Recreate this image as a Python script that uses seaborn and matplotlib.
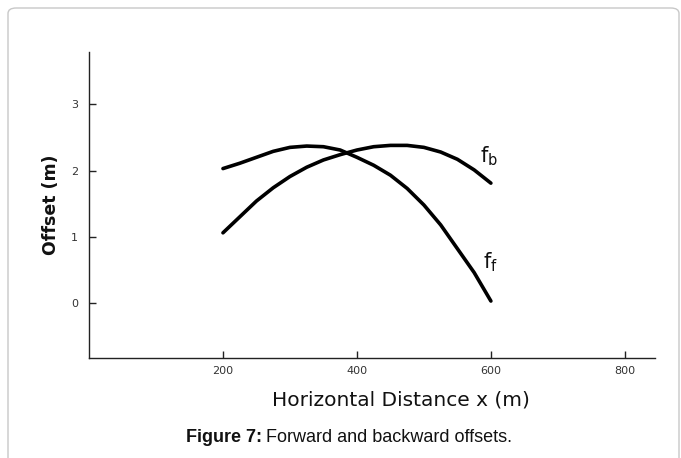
import matplotlib
matplotlib.use("Agg")
import matplotlib.pyplot as plt
from matplotlib.patches import FancyBboxPatch
import seaborn as sns
import pandas as pd

# Data
distance = [200, 225, 250, 275, 300, 325, 350, 375, 400, 425, 450, 475, 500, 525, 550, 575, 600]
f_forward = [2.03, 2.11, 2.20, 2.29, 2.35, 2.37, 2.36, 2.31, 2.20, 2.08, 1.93, 1.73, 1.48,
             1.18, 0.82, 0.46, 0.03]
f_backward = [1.06, 1.30, 1.54, 1.74, 1.91, 2.05, 2.16, 2.24, 2.31, 2.36, 2.38, 2.38, 2.35,
              2.28, 2.17, 2.01, 1.81]
x_ticks = [200, 400, 600, 800]
y_ticks = [0, 1, 2, 3]

df = pd.DataFrame({
    "x": distance * 2,
    "y": f_forward + f_backward,
    "series": ["ff"] * len(distance) + ["fb"] * len(distance),
})

sns.set_theme(style="white")
plt.rcParams['font.family'] = ['DejaVu Sans']

fig = plt.figure(figsize=(6.81, 4.58), dpi=100)
fig.patch.set_facecolor("white")

# rounded frame
frame = FancyBboxPatch((8 / 681, -0.05), 671 / 681, 1.05 - 8 / 458,
                       boxstyle="round,pad=0,rounding_size=0.012",
                       transform=fig.transFigure, facecolor="none",
                       edgecolor="#c8c8c8", linewidth=1.0, zorder=-10)
fig.patches.append(frame)

ax = fig.add_axes([89 / 681, 1 - 358 / 458, (655 - 89) / 681, (358 - 52) / 458])
ax.set_facecolor("none")
ax.set_zorder(5)

sns.lineplot(data=df, x="x", y="y", hue="series", palette={"ff": "black", "fb": "black"},
             linewidth=2.6, legend=False, ax=ax, sort=False, estimator=None)

ax.set_xlim(0, 845)
ax.set_ylim(-0.83, 3.79)
ax.set_xticks(x_ticks)
ax.set_yticks(y_ticks)
ax.tick_params(axis="both", direction="in", length=5, width=1, colors="#222222",
               labelsize=8, labelcolor="#333333", pad=6, bottom=True, left=True)
ax.tick_params(axis="y", pad=8)
for s in ["top", "right"]:
    ax.spines[s].set_visible(False)
for s in ["left", "bottom"]:
    ax.spines[s].set_color("#222222")
    ax.spines[s].set_linewidth(1.0)

ax.set_xlabel("Horizontal Distance x (m)", fontsize=14.5, color="#111111")
ax.xaxis.set_label_coords((401 - 89) / 566, -(400 - 358) / 306, transform=ax.transAxes)
ax.xaxis.label.set_va("center")
ax.set_ylabel("Offset (m)", fontsize=12.5, fontweight="bold", color="#111111", labelpad=8)

ax.text(583, 2.22, r"$\mathregular{f_b}$", fontsize=15, color="#111111",
        va="center", ha="left")
ax.text(588, 0.62, r"$\mathregular{f_f}$", fontsize=15, color="#111111",
        va="center", ha="left")

fig.text(262 / 681, 1 - 437 / 458, "Figure 7:", fontsize=13,
         fontweight="bold", family="Liberation Sans", ha="right", va="center",
         color="#111111")
fig.text(266 / 681, 1 - 437 / 458, "Forward and backward offsets.",
         fontsize=13, family="Liberation Sans", ha="left", va="center",
         color="#111111")

fig.savefig("out.png", dpi=100)
